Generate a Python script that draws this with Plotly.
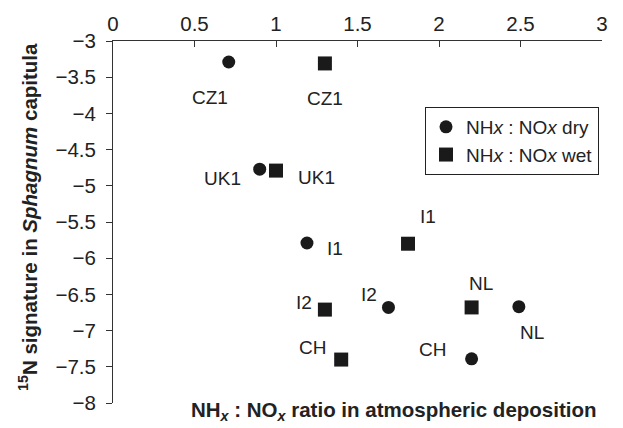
import plotly.graph_objects as go

# Data
sites = ["CZ1", "UK1", "I1", "I2", "NL", "CH"]
dry_x = [0.71, 0.90, 1.19, 1.69, 2.49, 2.20]
dry_y = [-3.29, -4.77, -5.79, -6.68, -6.67, -7.39]
wet_x = [1.30, 1.00, 1.81, 1.30, 2.20, 1.40]
wet_y = [-3.31, -4.79, -5.80, -6.71, -6.68, -7.40]
x_ticks = [0, 0.5, 1, 1.5, 2, 2.5, 3]
y_ticks = [-3, -3.5, -4, -4.5, -5, -5.5, -6, -6.5, -7, -7.5, -8]

# label offsets in pixels (xanchor, xshift, yshift)
dry_off = [("center", -19, -35), ("right", -17, -9), ("left", 18, -5),
           ("center", -19, 13), ("center", 13, -26), ("center", -39, 9)]
wet_off = [("center", 0, -35), ("left", 20, -7), ("center", 20, 27),
           ("center", -21, 7), ("center", 9, 24), ("center", -29, 12)]

TXT = "#222222"
FONT = "Liberation Sans, Arial, sans-serif"
FS = 19
TFS = 20.5

fig = go.Figure()
fig.add_trace(go.Scatter(x=dry_x, y=dry_y, mode="markers", name="NH<i>x</i> : NO<i>x</i> dry",
                         marker=dict(symbol="circle", size=13, color="#1a1a1a")))
fig.add_trace(go.Scatter(x=wet_x, y=wet_y, mode="markers", name="NH<i>x</i> : NO<i>x</i> wet",
                         marker=dict(symbol="square", size=14, color="#1a1a1a")))

anns = []
for xs, ys, offs in ((dry_x, dry_y, dry_off), (wet_x, wet_y, wet_off)):
    for s, xv, yv, (xa, dx, dy) in zip(sites, xs, ys, offs):
        anns.append(dict(x=xv, y=yv, xref="x", yref="y", text=s, showarrow=False,
                         xanchor=xa, yanchor="middle", xshift=dx, yshift=dy,
                         font=dict(size=FS, color=TXT, family=FONT)))

anns.append(dict(xref="paper", yref="paper", x=(394 - 113) / 489, y=-(411 - 403) / 362,
                 text="NH<sub><i>x</i></sub> : NO<sub><i>x</i></sub> ratio in atmospheric deposition",
                 showarrow=False, xanchor="center", yanchor="middle",
                 font=dict(size=20.5, color=TXT, family=FONT, weight="bold")))
anns.append(dict(xref="paper", yref="paper", x=(28 - 113) / 489, y=1 - (217 - 41) / 362,
                 text="<sup>15</sup>N signature in <i>Sphagnum</i> capitula", textangle=-90,
                 showarrow=False, xanchor="center", yanchor="middle",
                 font=dict(size=20.5, color=TXT, family=FONT, weight="bold")))

fig.update_layout(
    width=623, height=428,
    margin=dict(l=113, r=21, t=41, b=25),
    paper_bgcolor="white", plot_bgcolor="white",
    font=dict(family=FONT, color=TXT, size=FS),
    showlegend=True,
    legend=dict(x=(599 - 113) / 489, y=1 - (107 - 41) / 362, xanchor="right", yanchor="top",
                bordercolor="#222222", borderwidth=1, bgcolor="white",
                font=dict(size=FS, color=TXT, family=FONT), tracegroupgap=0),
    annotations=anns,
    xaxis=dict(range=[0, 3], side="top", tickvals=x_ticks, ticktext=[f"{v:g}" for v in x_ticks],
               showgrid=False, zeroline=False, showline=True, linecolor="#333333", linewidth=1,
               ticks="inside", ticklen=6, tickcolor="#333333", mirror=False,
               ticklabelstandoff=1,
               tickfont=dict(size=TFS, color=TXT, family=FONT)),
    yaxis=dict(range=[-8, -3], tickvals=y_ticks,
               showgrid=False, zeroline=False, showline=True, linecolor="#333333", linewidth=1,
               ticks="outside", ticklen=6, tickcolor="#333333",
               ticklabelstandoff=6,
               tickfont=dict(size=TFS, color=TXT, family=FONT)),
)

fig.write_html("out.html")
